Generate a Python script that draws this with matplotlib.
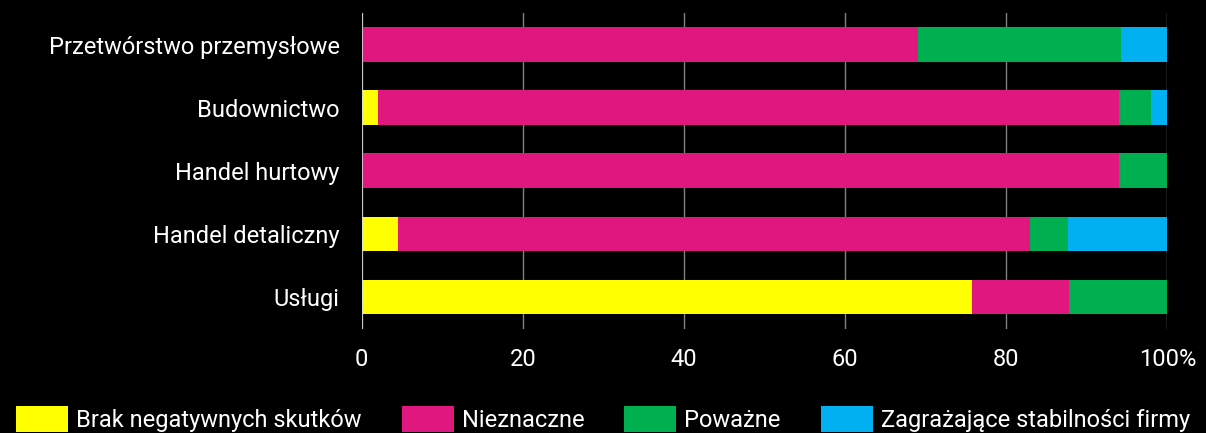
import numpy as np
import matplotlib.pyplot as plt

plt.rcParams['font.family'] = ['Roboto', 'DejaVu Sans']

categories = ['Przetwórstwo przemysłowe', 'Budownictwo', 'Handel hurtowy',
              'Handel detaliczny', 'Usługi']
series_names = ['Brak negatywnych skutków', 'Nieznaczne', 'Poważne',
                'Zagrażające stabilności firmy']
brak = [0.0, 2.0, 0.0, 4.5, 75.7]
nieznaczne = [69.1, 92.0, 94.0, 78.5, 12.1]
powazne = [25.2, 4.0, 6.0, 4.6, 12.2]
zagrazajace = [5.7, 2.0, 0.0, 12.4, 0.0]
colors = ['#ffff00', '#e0177e', '#00b050', '#00b0f0']

fig = plt.figure(figsize=(12.06, 4.33), dpi=100, facecolor='black')
ax = fig.add_axes([0.300, 0.241, 0.668, 0.729], facecolor='black')

y = np.arange(len(categories))
left = np.zeros(len(categories))
for vals, name, c in zip([brak, nieznaczne, powazne, zagrazajace], series_names, colors):
    ax.barh(y, vals, left=left, height=0.55, color=c, label=name, zorder=3)
    left += np.array(vals)

ax.set_ylim(len(categories) - 0.5, -0.5)
ax.set_xlim(0, 100)
ax.set_yticks(y)
ax.set_yticklabels(categories, color='white', fontsize=17)
ax.set_xticks([0, 20, 40, 60, 80, 100])
ax.set_xticklabels(['0', '20', '40', '60', '80', '100%'], color='white', fontsize=17)
ax.tick_params(length=0)
ax.tick_params(axis='y', pad=16)
ax.tick_params(axis='x', pad=14)
ax.grid(axis='x', color='#808080', linewidth=1, zorder=0)
ax.axvline(0, color='#d9d9d9', linewidth=1.2, zorder=4)
for s in ax.spines.values():
    s.set_visible(False)

leg = fig.legend(loc='center', bbox_to_anchor=(0.5, 0.032), ncol=4,
                 frameon=False, fontsize=17, labelcolor='white',
                 handlelength=2.2, handleheight=1.3, handletextpad=0.34,
                 columnspacing=1.7, borderpad=0, borderaxespad=0)

fig.savefig('out.png', dpi=100, facecolor='black')
